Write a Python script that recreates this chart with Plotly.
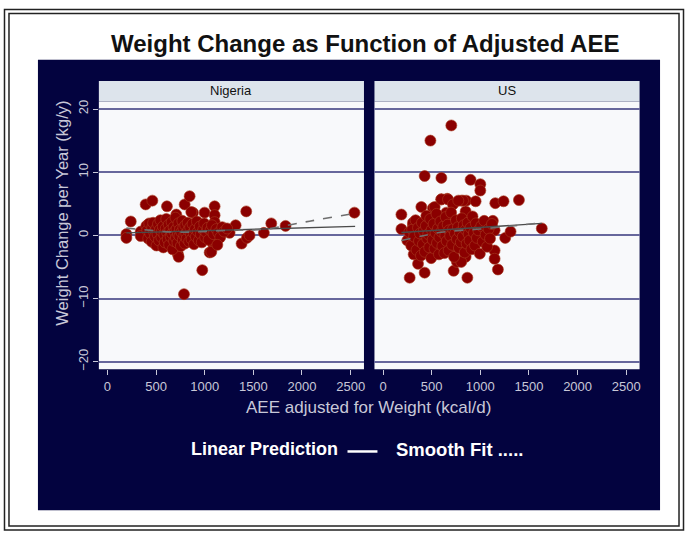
import plotly.graph_objects as go

W, H = 688, 536

# ---------------- data ----------------
nigeria_x = [195, 195, 240, 342, 342, 393, 462, 417, 486, 612, 708, 725, 732, 794, 845, 879, 787, 975,
             999, 1051, 1102, 1102, 1102, 1085, 1256, 1318, 1379, 1427, 1434, 1461, 1608, 1684, 1831, 2539,
             862, 1050, 1050, 1085, 1068,
             400, 410, 420, 430, 440, 455, 460, 470, 480, 490, 500, 505, 515, 520, 530, 540, 545, 555, 560,
             570, 575, 585, 590, 600, 605, 615, 620, 630, 635, 645, 650, 660, 665, 670, 680, 685, 690, 700,
             705, 710, 720, 725, 730, 740, 745, 755, 760, 770, 775, 780, 790, 795, 800, 810, 815, 825, 830,
             840, 850, 860, 865, 875, 885, 890, 900, 910, 920, 930, 940, 950, 960, 970, 985, 995, 1005, 1015,
             1030, 1040, 1060, 1075, 1090, 1120, 1140, 1160, 1180, 1200, 1230, 1130]
nigeria_y = [0.2, -0.4, 2.2, 0.6, -0.1, 4.9, 5.5, 1.7, -1.3, 4.6, 3.3, -3.0, -3.4, 4.9, 6.2, 3.6, -9.3, -5.5,
             3.6, -2.7, 4.6, 3.2, 2.1, -1.3, 0.4, 1.6, -1.3, 3.8, -0.4, 0.0, 0.4, 1.9, 1.5, 3.6,
             3.7, 1.0, 0.2, -0.9, -2.6,
             1.5, 0.8, -0.5, 1.9, 0.3, -1.0, 1.2, 2.0, 0.5, -0.2, 1.0, -1.6, 0.2, 1.8, -0.8, 0.9, 2.4, -0.3, 0.6,
             1.4, -1.9, 0.1, -1.1, 1.1, 2.6, 0.4, -0.6, 1.7, -1.5, 0.8, -0.2, 2.1, 0.3, -2.2, 1.3, -0.9, 0.6, 2.8,
             -0.4, 1.0, -1.2, 0.2, 1.9, -0.1, 0.9, -1.7, 0.5, 2.3, -0.7, 1.2, 0.0, -1.3, 1.6, 0.3, -0.5, 2.0, 0.8,
             -1.0, 1.3, 0.1, -0.6, 1.8, 0.4, -1.4, 1.0, -0.2, 2.2, 0.6, -0.8, 1.4, 0.2, -1.1, 0.9, 1.9, -0.3, 0.5,
             1.2, -0.7, 0.8, 1.6, 0.2, 1.0, 0.4, -0.3, 1.3, 0.6, 1.1, -1.5]

us_x = [702, 487, 428, 600, 900, 1000, 1000, 600, 660, 805, 856, 952, 1154, 1239, 1397, 189, 189, 394, 513,
        308, 274, 428, 360, 315, 726, 760, 867, 1147, 1147, 1181, 1256, 1311, 1632, 1147,
        849, 1129, 1095, 849, 804, 531, 599, 668, 822, 308, 462, 719, 651, 774,
        250, 270, 290, 300, 320, 335, 345, 360, 370, 380, 390, 400, 410, 420, 430, 440, 445, 455, 465, 475,
        485, 495, 500, 510, 520, 530, 540, 550, 555, 565, 575, 580, 590, 600, 610, 620, 630, 640, 645, 655,
        665, 675, 680, 690, 700, 710, 720, 730, 740, 750, 760, 770, 780, 790, 800, 810, 820, 830, 840, 850,
        860, 870, 880, 890, 900, 910, 920, 935, 945, 955, 965, 980, 995, 1010, 1025, 1040, 1055, 1070, 1085,
        1100, 1120]
us_y = [17.4, 15.0, 9.4, 9.1, 8.8, 8.1, 7.1, 5.7, 5.8, 5.5, 5.5, 5.4, 5.1, 5.4, 5.6, 3.3, 1.0, 4.5, 4.3,
        1.6, -6.7, -5.9, -4.5, -3.0, -5.6, -4.2, -6.7, -2.4, -3.7, -5.4, -0.4, 0.6, 1.1, 0.8,
        3.8, 2.3, 1.5, -3.4, -4.2, 4.5, 5.7, 5.7, 5.5, 2.0, 3.0, 4.9, 3.6, 5.5,
        -0.8, 0.5, -1.6, 0.9, -0.2, 2.4, -2.3, 1.2, -0.9, 0.3, -3.2, 2.0, -1.4, 0.7, -2.6, 1.5, 3.1, -0.5,
        0.2, -1.9, 2.6, -3.6, 0.9, -0.7, 1.8, -2.1, 0.4, 3.4, -1.2, 1.1, -3.0, -0.3, 2.2, 0.6, -1.7, 1.4,
        -2.8, 0.0, 2.9, -0.9, 1.7, -2.4, 0.8, -0.1, 3.6, -1.5, 1.0, -3.4, 0.3, 2.4, -0.6, 1.3, -2.0, 0.5,
        -1.1, 2.7, -0.2, 1.6, -2.7, 0.9, -1.3, 2.0, 0.2, -0.8, 1.2, -2.2, 3.0, 0.4, -1.6, 1.9, -0.4, 0.8,
        -2.9, 1.5, -1.0, 2.3, 0.1, -1.8, 1.0, -0.5, 1.8]

nigeria_lin_x = [195, 2546]
nigeria_lin_y = [0.4, 1.42]
nigeria_smooth_x = [195, 450, 700, 900, 1100, 1350, 1600, 2078, 2546]
nigeria_smooth_y = [1.15, 0.8, 0.5, 0.55, 0.7, 0.85, 0.95, 2.25, 3.5]

us_lin_x = [189, 1632]
us_lin_y = [0.45, 1.9]
us_smooth_x = [189, 400, 600, 800, 1000, 1200, 1400, 1632]
us_smooth_y = [-0.8, -0.1, 0.5, 0.8, 1.0, 1.3, 1.6, 2.0]

panels = ["Nigeria", "US"]
x_ticks = [0, 500, 1000, 1500, 2000, 2500]
y_ticks = [-20, -10, 0, 10, 20]

# ---------------- styling ----------------
NAVY = "#03033f"
DOT = "#8b0000"
LIGHT = "#c8c8d8"
GRID = "#67679c"
FONT = "Liberation Sans, Arial, sans-serif"

def px(x):
    return x / W

def py(y):
    return 1 - y / H

P1 = (99, 364.5)
P2 = (375, 640.5)
PT, PB = 100, 369.4

fig = go.Figure()

for i, (xs, ys, lx, ly, sx, sy) in enumerate([
    (nigeria_x, nigeria_y, nigeria_lin_x, nigeria_lin_y, nigeria_smooth_x, nigeria_smooth_y),
    (us_x, us_y, us_lin_x, us_lin_y, us_smooth_x, us_smooth_y),
]):
    xa = "x" if i == 0 else "x2"
    ya = "y" if i == 0 else "y2"
    fig.add_trace(go.Scatter(x=xs, y=ys, mode="markers", xaxis=xa, yaxis=ya,
                             marker=dict(color=DOT, size=11, line=dict(width=0.6, color="#a83a20")),
                             showlegend=False, hoverinfo="skip"))
    fig.add_trace(go.Scatter(x=lx, y=ly, mode="lines", xaxis=xa, yaxis=ya,
                             line=dict(color="#4a4a4a", width=1.4), showlegend=False))
    fig.add_trace(go.Scatter(x=sx, y=sy, mode="lines", xaxis=xa, yaxis=ya, line_shape="spline",
                             line=dict(color="#6e6e6e", width=1.6, dash="dash"), showlegend=False))

xcommon = dict(range=[-88, 2637], tickvals=x_ticks, ticks="outside", ticklen=5, tickwidth=1,
               tickcolor=LIGHT, tickfont=dict(size=13, color=LIGHT, family=FONT),
               showgrid=False, zeroline=False, showline=False, fixedrange=True)
ycommon = dict(range=[-21.2, 21.2], tickvals=y_ticks, showgrid=True, gridcolor=GRID, gridwidth=2,
               zeroline=False, showline=False, domain=[py(PB), py(PT)], fixedrange=True)

fig.update_layout(
    width=W, height=H, autosize=False,
    margin=dict(l=0, r=0, t=0, b=0),
    paper_bgcolor="white", plot_bgcolor="rgba(0,0,0,0)",
    xaxis=dict(domain=[px(P1[0]), px(P1[1])], anchor="y", **xcommon),
    xaxis2=dict(domain=[px(P2[0]), px(P2[1])], anchor="y2", **xcommon),
    yaxis=dict(anchor="x", ticks="outside", ticklen=5, tickcolor=LIGHT, tickangle=-90,
               tickfont=dict(size=13, color=LIGHT, family=FONT), **ycommon),
    yaxis2=dict(anchor="x2", showticklabels=False, ticks="", **ycommon),
    font=dict(family=FONT),
)

shapes = []
# outer double frame
shapes.append(dict(type="rect", xref="paper", yref="paper", x0=px(4.5), x1=px(684.5), y0=py(531), y1=py(7.5),
                   line=dict(color="#222", width=1.5), layer="below"))
shapes.append(dict(type="rect", xref="paper", yref="paper", x0=px(9), x1=px(680), y0=py(527), y1=py(11.5),
                   line=dict(color="#222", width=1.5), layer="below"))
# navy background
shapes.append(dict(type="rect", xref="paper", yref="paper", x0=px(38), x1=px(661), y0=py(511), y1=py(58),
                   fillcolor=NAVY, line=dict(width=0), layer="below"))
for (a, b), name in zip([P1, P2], panels):
    shapes.append(dict(type="rect", xref="paper", yref="paper", x0=px(a), x1=px(b), y0=py(PB), y1=py(PT),
                       fillcolor="#f8f9fb", line=dict(width=0), layer="below"))
    shapes.append(dict(type="rect", xref="paper", yref="paper", x0=px(a), x1=px(b), y0=py(PT), y1=py(79.5),
                       fillcolor="#dde4ec", line=dict(width=0), layer="below"))
# legend dash
shapes.append(dict(type="line", xref="paper", yref="paper", x0=px(348), x1=px(378), y0=py(452), y1=py(452),
                   line=dict(color="white", width=2.5)))

annotations = []
annotations.append(dict(text="<b>Weight Change as Function of Adjusted AEE</b>", x=px(366), y=py(42),
                        xref="paper", yref="paper", showarrow=False, xanchor="center", yanchor="middle",
                        font=dict(size=24, color="#111", family=FONT)))
for (a, b), name in zip([P1, P2], panels):
    annotations.append(dict(text=name, x=px((a + b) / 2), y=py(89.5), xref="paper", yref="paper",
                            showarrow=False, xanchor="center", yanchor="middle",
                            font=dict(size=13, color="#111", family=FONT)))
annotations.append(dict(text="AEE adjusted for Weight (kcal/d)", x=px(369), y=py(408), xref="paper",
                        yref="paper", showarrow=False, xanchor="center", yanchor="middle",
                        font=dict(size=17, color=LIGHT, family=FONT)))
annotations.append(dict(text="Weight Change per Year (kg/y)", x=px(62), y=py(212), xref="paper",
                        yref="paper", showarrow=False, xanchor="center", yanchor="middle", textangle=-90,
                        font=dict(size=16.5, color=LIGHT, family=FONT)))
annotations.append(dict(text="<b>Linear Prediction</b>", x=px(340), y=py(450), xref="paper", yref="paper",
                        showarrow=False, xanchor="right", yanchor="middle",
                        font=dict(size=18, color="white", family=FONT)))
annotations.append(dict(text="<b>Smooth Fit .....</b>", x=px(395), y=py(450), xref="paper", yref="paper",
                        showarrow=False, xanchor="left", yanchor="middle",
                        font=dict(size=18.5, color="white", family=FONT)))

fig.update_layout(shapes=shapes, annotations=annotations)
fig.write_html("out.html", config={"displayModeBar": False, "staticPlot": True},
               post_script="document.body.style.margin='0';document.body.style.padding='0';")
